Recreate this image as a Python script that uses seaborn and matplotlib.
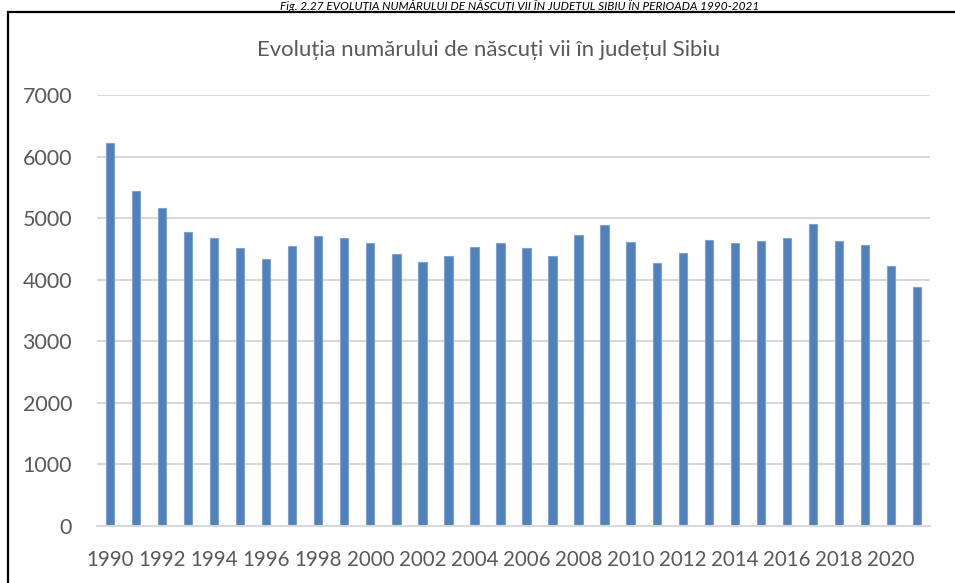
import matplotlib
matplotlib.use("Agg")
import matplotlib.pyplot as plt
import seaborn as sns
import pandas as pd
from matplotlib.patches import Rectangle

years = [str(y) for y in range(1990, 2022)]
births = [6220, 5440, 5170, 4780, 4680, 4515, 4330, 4545, 4705, 4675,
          4600, 4420, 4295, 4385, 4525, 4590, 4515, 4385, 4725, 4885,
          4610, 4270, 4440, 4645, 4600, 4625, 4680, 4905, 4630, 4570,
          4220, 3880]
yticks = [0, 1000, 2000, 3000, 4000, 5000, 6000, 7000]

title = "Evoluția numărului de născuți vii în județul Sibiu"
caption = "Fig. 2.27 EVOLUȚIA NUMĂRULUI DE NĂSCUȚI VII ÎN JUDEȚUL SIBIU ÎN PERIOADA 1990-2021"

df = pd.DataFrame({"an": years, "nascuti": births})

sns.set_style("white")
plt.rcParams["font.family"] = ["Lato", "DejaVu Sans"]

fig = plt.figure(figsize=(9.55, 5.83), dpi=100)
ax = fig.add_axes([97 / 955, 1 - 526 / 583, 833 / 955, 431 / 583])

sns.barplot(data=df, x="an", y="nascuti", color="#4F81BD", width=0.32,
            edgecolor="#7FA3D0", linewidth=0.8, saturation=1, ax=ax)

ax.set_ylim(0, 7000)
ax.set_xlim(-0.5, len(years) - 0.5)
ax.set_yticks(yticks)
ax.set_xticks(range(0, len(years), 2))
ax.set_xticklabels(years[::2])
ax.yaxis.grid(True, color="#D9D9D9", linewidth=1.5)
ax.set_axisbelow(True)
for s in ["top", "right", "left"]:
    ax.spines[s].set_visible(False)
ax.spines["bottom"].set_color("#D9D9D9")
ax.spines["bottom"].set_linewidth(1.5)
ax.tick_params(axis="both", length=0, labelcolor="#595959")
ax.tick_params(axis="x", pad=17, labelsize=14.8)
ax.tick_params(axis="y", pad=18, labelsize=15.5)
ax.set_xlabel("")
ax.set_ylabel("")

fig.text(488 / 955, 1 - 50 / 583, title, ha="center", va="center",
         fontsize=15.9, color="#595959")

fig.text(520 / 955, 1 - 10 / 583, caption, ha="center", va="baseline",
         fontsize=8.5, style="italic", color="black")

box = Rectangle((8 / 955, -0.05), 1.2, 1.05 - 12 / 583, transform=fig.transFigure,
                fill=False, edgecolor="black", linewidth=1.6, clip_on=False)
fig.add_artist(box)

fig.savefig("out.png", dpi=100)
